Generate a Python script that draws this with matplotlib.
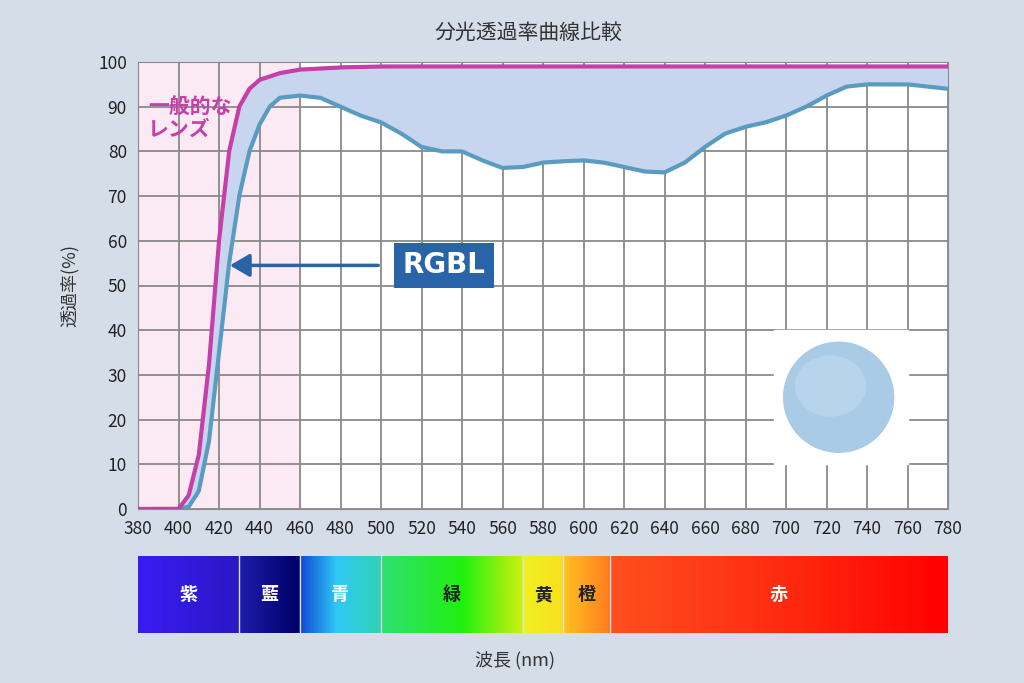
import numpy as np
import matplotlib
matplotlib.use("Agg")
import matplotlib.pyplot as plt
from matplotlib.colors import LinearSegmentedColormap
from matplotlib.patches import Ellipse, Rectangle

plt.rcParams['font.family'] = ['Noto Sans CJK JP', 'DejaVu Sans']

wl_gen = [380, 400, 405, 410, 415, 420, 425, 430, 435, 440, 450, 460, 480, 500, 550, 600, 650, 700, 780]
tr_gen = [0, 0, 3, 12, 32, 60, 80, 90, 94, 96, 97.5, 98.3, 98.8, 99, 99, 99, 99, 99, 99]
wl_rgbl = [380, 400, 405, 410, 415, 420, 425, 430, 435, 440, 445, 450, 460, 470, 480, 490, 500, 510, 520, 530, 540, 550, 560, 570, 580, 590, 600, 610, 620, 630, 640, 650, 660, 670, 680, 690, 700, 710, 720, 730, 740, 750, 760, 770, 780]
tr_rgbl = [0, 0, 0.5, 4, 15, 35, 55, 70, 80, 86, 90, 92, 92.5, 92, 90, 88, 86.5, 84, 81, 80, 80, 78, 76.3, 76.5, 77.5, 77.8, 78, 77.5, 76.5, 75.5, 75.3, 77.5, 81, 84, 85.5, 86.5, 88, 90, 92.5, 94.5, 95, 95, 95, 94.5, 94]
xticks = list(range(380, 781, 20))
yticks = list(range(0, 101, 10))
bands = ['紫', '藍', '青', '緑', '黄', '橙', '赤']
band_edges = [380, 430, 460, 500, 570, 590, 613, 780]

bg = '#d5dde9'
fig = plt.figure(figsize=(10.24, 6.83), dpi=100, facecolor=bg)
ax = fig.add_axes([138/1024, 1-509/683, 810/1024, 447/683])
ax.set_facecolor('white')
ax.set_xlim(380, 780); ax.set_ylim(0, 100)
ax.axvspan(380, 460, color='#fbe9f4', zorder=0)
ax.set_xticks(xticks); ax.set_yticks(yticks)
ax.grid(True, color='#8a8a8a', lw=1.3, zorder=1)
ax.tick_params(length=0, labelsize=12.5, colors='#222222', pad=8)
for s in ax.spines.values():
    s.set_color('#8a8a8a')

xs = np.linspace(380, 780, 800)
g = np.interp(xs, wl_gen, tr_gen)
r = np.interp(xs, wl_rgbl, tr_rgbl)
ax.fill_between(xs, r, g, where=g >= r, color='#c7d6ee', zorder=2)
ax.plot(xs, g, color='#c63fa8', lw=3, zorder=4)
ax.plot(xs, r, color='#5a9bc2', lw=3, zorder=3)

# lens picture
ax.add_patch(Rectangle((0.785, 0.1), 0.165, 0.3, transform=ax.transAxes, color='white', zorder=5))
ax.add_patch(Ellipse((0.865, 0.25), 110/810, 110/447, transform=ax.transAxes, color='#a9cbe6', zorder=6))
ax.add_patch(Ellipse((0.855, 0.275), 70/810, 60/447, transform=ax.transAxes, color='#b6d4ec', zorder=6))

# arrow + label
ax.annotate('', xy=(424, 54.5), xytext=(500, 54.5),
            arrowprops=dict(arrowstyle='-|>,head_length=1.2,head_width=0.7', color='#2a64a8', lw=2.5), zorder=7)
ax.text(531, 54.5, 'RGBL', color='white', fontsize=20, fontweight='bold', ha='center', va='center',
        family=['DejaVu Sans'], zorder=8,
        bbox=dict(boxstyle='square,pad=0.3', fc='#2a64a8', ec='none'))
ax.text(385, 87.5, '一般的な\nレンズ', color='#c63fa8', fontsize=15, fontweight='bold', va='center', ha='left',
        linespacing=1.1, zorder=8)

ax.set_ylabel('透過率(%)', fontsize=13, color='#333333', rotation=90, labelpad=14)
fig.text(528/1024, 1-33/683, '分光透過率曲線比較', fontsize=15, ha='center', va='center', color='#333333')
fig.text(515/1024, 1-660/683, '波長 (nm)', fontsize=13, ha='center', va='center', color='#333333')

# spectrum bar
bax = fig.add_axes([138/1024, 1-633/683, 810/1024, 77/683])
nm_stops = [(380, '#3a1cf4'), (429, '#2a18c4'), (431, '#1c1ca8'), (459, '#000068'),
            (461, '#1050d8'), (478, '#30c8f4'), (499, '#30d2b8'), (501, '#30e070'),
            (540, '#20f010'), (569, '#c8f010'), (571, '#f0f020'), (589, '#f8e020'),
            (591, '#ffc020'), (612, '#ff8020'), (614, '#ff5020'), (700, '#ff2a10'), (780, '#ff0000')]
stops = [((n - 380) / 400, c) for n, c in nm_stops]
cmap = LinearSegmentedColormap.from_list('spec', stops, N=1024)
bax.imshow(np.linspace(0, 1, 1024)[None, :], aspect='auto', cmap=cmap, extent=(380, 780, 0, 1))
bax.set_xlim(380, 780); bax.set_ylim(0, 1)
bax.set_xticks([]); bax.set_yticks([])
for s in bax.spines.values():
    s.set_visible(False)
for e in band_edges[1:-1]:
    bax.axvline(e, color='#e0e0e0', lw=1)
for i, b in enumerate(bands):
    c = (band_edges[i] + band_edges[i+1]) / 2
    col = '#222222' if b in ('緑', '黄', '橙') else 'white'
    bax.text(c, 0.5, b, color=col, fontsize=13, fontweight='bold', ha='center', va='center')

fig.savefig('out.png', dpi=100, facecolor=bg)
